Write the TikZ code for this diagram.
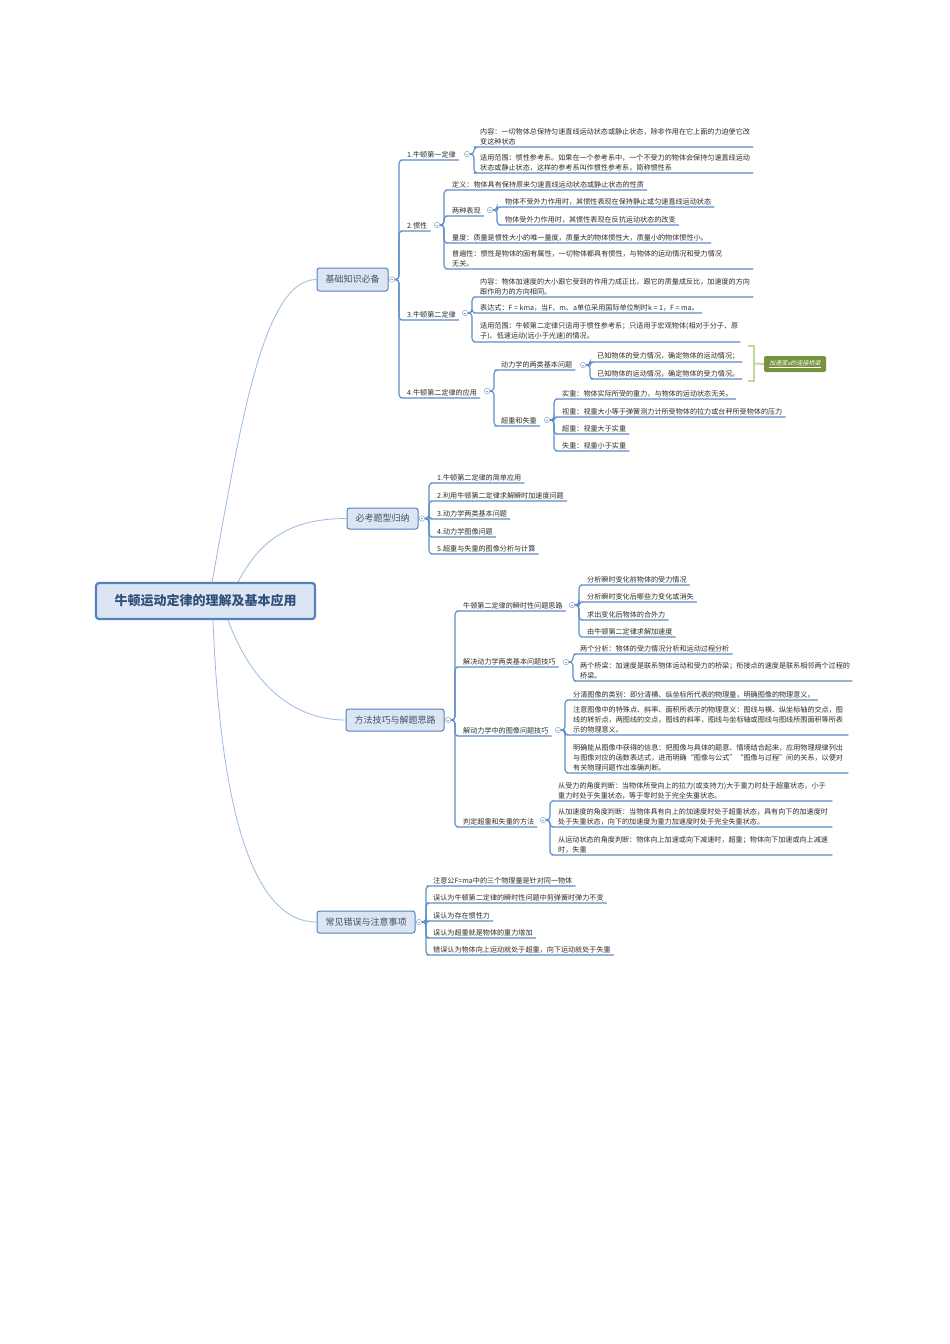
\documentclass[tikz,border=0pt]{standalone}
\usepackage{fontspec}
\setmainfont{Noto Sans CJK SC}
\newfontfamily\slantcjk{Noto Sans CJK SC}[FakeSlant=0.2]
\definecolor{linecol}{RGB}{91,141,200}
\definecolor{curvecol}{RGB}{155,185,222}
\definecolor{boxfill}{RGB}{220,230,242}
\definecolor{boxborder}{RGB}{84,130,190}
\definecolor{topictext}{RGB}{65,80,105}
\definecolor{roottext}{RGB}{50,80,125}
\definecolor{txtcol}{RGB}{45,45,45}
\definecolor{togcol}{RGB}{140,165,200}
\definecolor{brk}{RGB}{196,215,155}
\definecolor{sumfill}{RGB}{118,146,60}
\tikzset{
  leaf/.style={anchor=south west, inner xsep=3pt, inner ysep=2pt, font=\fontsize{7.1}{9.8}\selectfont, text=txtcol, align=left},
  lw/.style={leaf, text width=#1},
  branch/.style={draw=linecol, line width=1.1pt, rounded corners=3.5pt},
  rootline/.style={draw=curvecol, line width=0.8pt},
  topic/.style={draw=boxborder, fill=boxfill, line width=1pt, rounded corners=2.5pt, font=\fontsize{9}{9}\selectfont, text=topictext, inner sep=0pt},
  rootbox/.style={draw=boxborder, fill=boxfill, line width=2.2pt, rounded corners=3pt, font=\fontsize{13}{13}\selectfont\bfseries, text=roottext, inner sep=0pt, minimum width=219pt, minimum height=36pt},
  tog/.style={circle, draw=togcol, fill=white, line width=0.5pt, minimum size=5.5pt, inner sep=0pt,
    path picture={\draw[togcol, line width=0.5pt] ([xshift=1.3pt]path picture bounding box.west) -- ([xshift=-1.3pt]path picture bounding box.east);}},
  bracketline/.style={draw=brk, line width=1.8pt},
  sumbox/.style={fill=sumfill, rounded corners=2pt, minimum width=62pt, minimum height=16pt, inner sep=0pt, text=white, font=\fontsize{6}{6}\selectfont\slantcjk}
}
\newcommand\kid[2]{\draw[branch] (#1.east) -- ++(4,0) |- (#2.south west) -- (#2.south east);}
\begin{document}
\begin{tikzpicture}[x=1pt,y=-1pt]
\fill[white] (0,0) rectangle (950,1344);
\useasboundingbox (0,0) rectangle (950,1344);

% root
\node[rootbox] (root) at (205.5,601) {牛顿运动定律的理解及基本应用};
\coordinate (r1) at (212,582);
\coordinate (r2) at (238,582);
\coordinate (r3) at (228,620);
\coordinate (r4) at (213,620);

% level 1
\node[topic, minimum width=71pt, minimum height=23pt] (b1) at (352.5,279.5) {基础知识必备};
\node[topic, minimum width=71pt, minimum height=21pt] (b2) at (382.5,518.5) {必考题型归纳};
\node[topic, minimum width=98pt, minimum height=22pt] (b3) at (395,720) {方法技巧与解题思路};
\node[topic, minimum width=98pt, minimum height=22pt] (b4) at (366,922) {常见错误与注意事项};

\draw[rootline] (r1) .. controls (240,430) and (262,279.5) .. (b1.west);
\draw[rootline] (r2) .. controls (260,540) and (290,518.5) .. (b2.west);
\draw[rootline] (r3) .. controls (250,680) and (290,720) .. (b3.west);
\draw[rootline] (r4) .. controls (220,800) and (250,922) .. (b4.west);

\node[tog] (c1) at (392,279.5) {};
\node[tog] (c2) at (422,518.5) {};
\node[tog] (c3) at (448,720) {};
\node[tog] (c4) at (419,922) {};

% ===== branch 1 =====
\node[leaf] (n11) at (404,160) {1.牛顿第一定律};
\node[leaf] (n12) at (404,231) {2.惯性};
\node[leaf] (n13) at (404,320) {3.牛顿第二定律};
\node[leaf] (n14) at (404,398) {4.牛顿第二定律的应用};
\kid{c1}{n11}\kid{c1}{n12}\kid{c1}{n13}\kid{c1}{n14}
\node[tog] (c11) at (467,154) {};
\node[tog] (c12) at (437,225) {};
\node[tog] (c13) at (465,313) {};
\node[tog] (c14) at (487,391) {};

\node[lw=270pt] (n111) at (477,147) {内容：一切物体总保持匀速直线运动状态或静止状态，除非作用在它上面的力迫使它改\\变这种状态};
\node[lw=270pt] (n112) at (477,173) {适用范围：惯性参考系。如果在一个参考系中，一个不受力的物体会保持匀速直线运动\\状态或静止状态，这样的参考系叫作惯性参考系，简称惯性系};
\kid{c11}{n111}\kid{c11}{n112}

\node[leaf] (n121) at (449,190) {定义：物体具有保持原来匀速直线运动状态或静止状态的性质};
\node[leaf] (n122) at (449,216) {两种表现};
\node[leaf] (n123) at (449,243) {量度：质量是惯性大小的唯一量度，质量大的物体惯性大，质量小的物体惯性小。};
\node[lw=298pt] (n124) at (449,269) {普遍性：惯性是物体的固有属性，一切物体都具有惯性，与物体的运动情况和受力情况\\无关。};
\kid{c12}{n121}\kid{c12}{n122}\kid{c12}{n123}\kid{c12}{n124}
\node[tog] (c122) at (490,210) {};
\node[leaf] (n1221) at (502,207) {物体不受外力作用时，其惯性表现在保持静止或匀速直线运动状态};
\node[leaf] (n1222) at (502,225) {物体受外力作用时，其惯性表现在反抗运动状态的改变};
\kid{c122}{n1221}\kid{c122}{n1222}

\node[lw=270pt] (n131) at (477,297) {内容：物体加速度的大小跟它受到的作用力成正比，跟它的质量成反比，加速度的方向\\跟作用力的方向相同。};
\node[leaf] (n132) at (477,313) {表达式：F = kma，当F、m、a单位采用国际单位制时k = 1，F = ma。};
\node[lw=257pt] (n133) at (477,342) {适用范围：牛顿第二定律只适用于惯性参考系；只适用于宏观物体(相对于分子、原\\子)、低速运动(远小于光速)的情况。};
\kid{c13}{n131}\kid{c13}{n132}\kid{c13}{n133}

\node[leaf] (n141) at (498,370) {动力学的两类基本问题};
\node[leaf] (n142) at (498,426) {超重和失重};
\kid{c14}{n141}\kid{c14}{n142}
\node[tog] (c141) at (583,365) {};
\node[tog] (c142) at (547,420) {};
\node[leaf] (n1411) at (594,362) {已知物体的受力情况，确定物体的运动情况；};
\node[leaf] (n1412) at (594,379) {已知物体的运动情况，确定物体的受力情况。};
\kid{c141}{n1411}\kid{c141}{n1412}
\node[leaf] (n1421) at (559,399) {实重：物体实际所受的重力，与物体的运动状态无关。};
\node[leaf] (n1422) at (559,417) {视重：视重大小等于弹簧测力计所受物体的拉力或台秤所受物体的压力};
\node[leaf] (n1423) at (559,434) {超重：视重大于实重};
\node[leaf] (n1424) at (559,451) {失重：视重小于实重};
\kid{c142}{n1421}\kid{c142}{n1422}\kid{c142}{n1423}\kid{c142}{n1424}

% summary bracket
\coordinate (bk1) at (748,346);
\coordinate (bk2) at (748,381);
\coordinate (bkm) at (754,363.5);
\node[sumbox] (sum) at (795,364) {\underline{加速度a的连接桥梁}};
\draw[bracketline] (bk1) -- ++(6,0) |- (bk2);
\draw[bracketline] (bkm) -- (sum.west);

% ===== branch 2 =====
\node[leaf] (n21) at (434,483) {1.牛顿第二定律的简单应用};
\node[leaf] (n22) at (434,501) {2.利用牛顿第二定律求解瞬时加速度问题};
\node[leaf] (n23) at (434,519) {3.动力学两类基本问题};
\node[leaf] (n24) at (434,537) {4.动力学图像问题};
\node[leaf] (n25) at (434,554) {5.超重与失重的图像分析与计算};
\kid{c2}{n21}\kid{c2}{n22}\kid{c2}{n23}\kid{c2}{n24}\kid{c2}{n25}

% ===== branch 3 =====
\node[leaf] (n31) at (460,611) {牛顿第二定律的瞬时性问题思路};
\node[leaf] (n32) at (460,667) {解决动力学两类基本问题技巧};
\node[leaf] (n33) at (460,736) {解动力学中的图像问题技巧};
\node[leaf] (n34) at (460,827) {判定超重和失重的方法};
\kid{c3}{n31}\kid{c3}{n32}\kid{c3}{n33}\kid{c3}{n34}
\node[tog] (c31) at (572,605) {};
\node[tog] (c32) at (566,662) {};
\node[tog] (c33) at (558,730) {};
\node[tog] (c34) at (543,820) {};

\node[leaf] (n311) at (584,585) {分析瞬时变化前物体的受力情况};
\node[leaf] (n312) at (584,602) {分析瞬时变化后哪些力变化或消失};
\node[leaf] (n313) at (584,620) {求出变化后物体的合外力};
\node[leaf] (n314) at (584,637) {由牛顿第二定律求解加速度};
\kid{c31}{n311}\kid{c31}{n312}\kid{c31}{n313}\kid{c31}{n314}

\node[leaf] (n321) at (577,654) {两个分析：物体的受力情况分析和运动过程分析};
\node[lw=269pt] (n322) at (577,681) {两个桥梁：加速度是联系物体运动和受力的桥梁；衔接点的速度是联系相邻两个过程的\\桥梁。};
\kid{c32}{n321}\kid{c32}{n322}

\node[leaf] (n331) at (570,700) {分清图像的类别：即分清横、纵坐标所代表的物理量，明确图像的物理意义。};
\node[lw=272pt] (n332) at (570,735) {注意图像中的特殊点、斜率、面积所表示的物理意义：图线与横、纵坐标轴的交点，图\\线的转折点，两图线的交点，图线的斜率，图线与坐标轴或图线与图线所围面积等所表\\示的物理意义。};
\node[lw=272pt] (n333) at (570,773) {明确能从图像中获得的信息：把图像与具体的题意、情境结合起来，应用物理规律列出\\与图像对应的函数表达式，进而明确“图像与公式”“图像与过程”间的关系，以便对\\有关物理问题作出准确判断。};
\kid{c33}{n331}\kid{c33}{n332}\kid{c33}{n333}

\node[lw=271pt] (n341) at (555,801) {从受力的角度判断：当物体所受向上的拉力(或支持力)大于重力时处于超重状态，小于\\重力时处于失重状态，等于零时处于完全失重状态。};
\node[lw=271pt] (n342) at (555,827) {从加速度的角度判断：当物体具有向上的加速度时处于超重状态，具有向下的加速度时\\处于失重状态，向下的加速度为重力加速度时处于完全失重状态。};
\node[lw=271pt] (n343) at (555,855) {从运动状态的角度判断：物体向上加速或向下减速时，超重；物体向下加速或向上减速\\时，失重};
\kid{c34}{n341}\kid{c34}{n342}\kid{c34}{n343}

% ===== branch 4 =====
\node[leaf] (n41) at (430,886) {注意公F=ma中的三个物理量是针对同一物体};
\node[leaf] (n42) at (430,903) {误认为牛顿第二定律的瞬时性问题中剪弹簧时弹力不变};
\node[leaf] (n43) at (430,921) {误认为存在惯性力};
\node[leaf] (n44) at (430,938) {误认为超重就是物体的重力增加};
\node[leaf] (n45) at (430,955) {错误认为物体向上运动就处于超重，向下运动就处于失重};
\kid{c4}{n41}\kid{c4}{n42}\kid{c4}{n43}\kid{c4}{n44}\kid{c4}{n45}

\end{tikzpicture}
\end{document}
